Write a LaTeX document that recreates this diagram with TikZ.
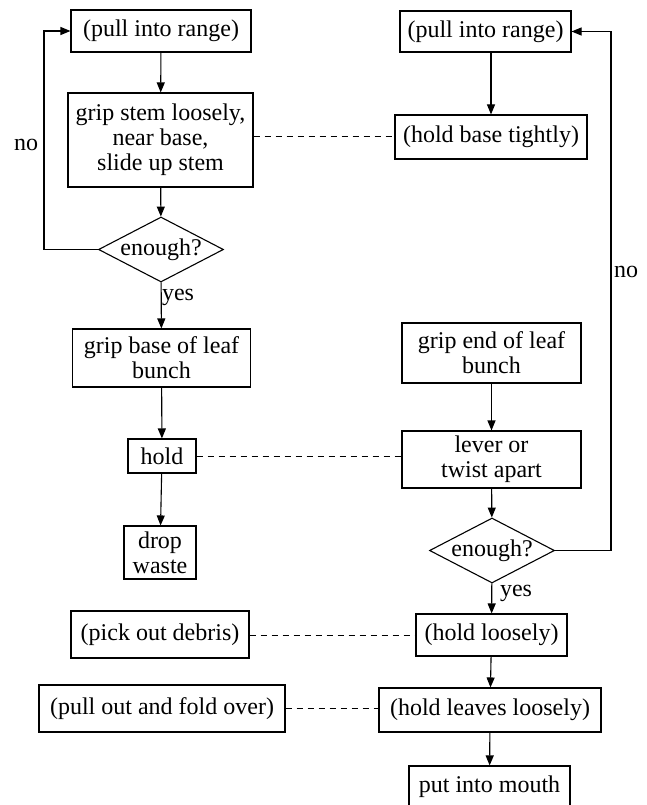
\documentclass[tikz,border=0pt]{standalone}
\usepackage{fontspec}
\setmainfont{Liberation Serif}
\newfontfamily\diafont{Liberation Serif}
\usetikzlibrary{arrows.meta,shapes.geometric}
\begin{document}
\begin{tikzpicture}[x=1pt,y=-1pt,
  every node/.style={font=\diafont\fontsize{24}{25}\selectfont},
  box/.style={draw,line width=1.1pt,inner sep=0pt,align=center},
  dec/.style={draw,line width=1.1pt,shape=diamond,shape aspect=2,inner sep=0pt,minimum width=120pt,minimum height=65pt},
  flow/.style={line width=1.1pt,-{Triangle[length=10pt,width=8pt]}},
  link/.style={line width=1pt,dash pattern=on 6pt off 5pt},
  lbl/.style={inner sep=0pt}]
\path[use as bounding box,clip] (0,0) rectangle (647,805);
% left column
\node[box,minimum width=180pt,minimum height=42pt] (p1) at (161,31) {(pull into range)};
\node[box,minimum width=185pt,minimum height=94pt] (gs) at (160.5,140) {grip stem loosely,\\near base,\\slide up stem};
\node[dec] (d1) at (161,249.5) {enough?};
\node[box,minimum width=178pt,minimum height=58pt] (gb) at (161.5,358) {grip base of leaf\\bunch};
\node[box,minimum width=68pt,minimum height=34pt] (hd) at (162,456) {hold};
\node[box,minimum width=72pt,minimum height=53pt] (dw) at (160,552.5) {drop\\waste};
\node[box,minimum width=178pt,minimum height=47pt] (pod) at (160,634.5) {(pick out debris)};
\node[box,minimum width=246pt,minimum height=47pt] (pfo) at (162,708.5) {(pull out and fold over)};
% right column
\node[box,minimum width=171pt,minimum height=41pt] (p2) at (485.5,31.5) {(pull into range)};
\node[box,minimum width=192pt,minimum height=44pt] (hb) at (491,137) {(hold base tightly)};
\node[box,minimum width=179pt,minimum height=60pt] (ge) at (491.5,353) {grip end of leaf\\bunch};
\node[box,minimum width=179pt,minimum height=57pt] (lv) at (491.5,459.5) {lever or\\twist apart};
\node[dec,minimum width=122pt] (d2) at (492,550.5) {enough?};
\node[box,minimum width=151pt,minimum height=42pt] (hl) at (491.5,635) {(hold loosely)};
\node[box,minimum width=222pt,minimum height=44pt] (hll) at (490,710) {(hold leaves loosely)};
\node[box,minimum width=161pt,minimum height=42pt] (pim) at (489.5,787) {put into mouth};
% labels
\node[lbl] (no1) at (26,145) {no};
\node[lbl] (no2) at (626,272) {no};
\node[lbl] (yes1) at (178,297) {yes};
\node[lbl] (yes2) at (516,593) {yes};
\coordinate (lc) at (44,0);
\coordinate (rc) at (611,0);
% flow arrows
\draw[flow] (p1) -- (gs);
\draw[flow] (gs) -- (d1);
\draw[flow] (d1) -- (gb);
\draw[flow] (gb) -- (hd);
\draw[flow] (hd) -- (dw);
\draw[flow] (p2.south -| hb.north) -- (hb.north);
\draw[flow] (ge) -- (lv);
\draw[flow] (lv) -- (d2);
\draw[flow] (d2) -- (hl);
\draw[flow] (hl) -- (hll);
\draw[flow] (hll) -- (pim);
% loops
\draw[flow] (d1.west) -- (d1.west -| lc) |- (p1.west);
\draw[flow] (d2.east) -- (d2.east -| rc) |- (p2.east);
% dashed links
\draw[link] (gs.east |- hb.west) -- (hb.west);
\draw[link] (hd.east) -- (hd.east -| lv.west);
\draw[link] (pod.east |- hl.west) -- (hl.west);
\draw[link] (pfo.east) -- (pfo.east -| hll.west);
\end{tikzpicture}
\end{document}
